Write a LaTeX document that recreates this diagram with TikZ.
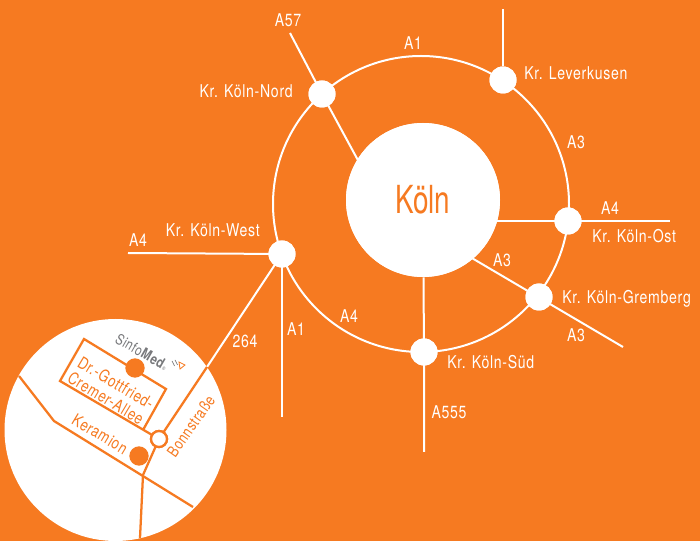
\documentclass[tikz,border=0pt]{standalone}
\usepackage{fontspec}
\setmainfont[FakeStretch=0.8,LetterSpace=4]{TeX Gyre Heros}
\newfontfamily\bigfont[FakeStretch=0.72]{TeX Gyre Heros}
\definecolor{bgor}{HTML}{F67A21}
\definecolor{logogray}{HTML}{77787B}
\tikzset{
  junction/.style={circle,fill=white,inner sep=0pt,minimum size=20.25pt},
  road/.style={draw=white,line width=1.5pt},
  lab/.style={text=white,font=\fontsize{13.2}{15}\selectfont,inner sep=0pt},
  street/.style={draw=bgor,line width=1.7pt,line join=miter},
  slab/.style={text=bgor,font=\fontsize{12.5}{15}\selectfont,inner sep=0pt},
  dotor/.style={circle,fill=bgor,inner sep=0pt,minimum size=14.5pt},
  hub/.style={circle,fill=white,inner sep=0pt,minimum size=115.5pt}
}
\begin{document}
\begin{tikzpicture}[x=0.75pt,y=-0.75pt]
\useasboundingbox (0,0) rectangle (700,541);
\fill[bgor] (0,0) rectangle (700,541);
% ring
\coordinate (ringc) at (421,204);
\draw[road] (ringc) circle[radius=148];
% free ends
\coordinate (endA57) at (290,33);
\coordinate (endLev) at (503,9);
\coordinate (endA4o) at (670,221);
\coordinate (endA3) at (623,347);
\coordinate (endA555) at (424,452);
\coordinate (endA1) at (282,417);
\coordinate (endA4w) at (128,253);
\coordinate (insetroad) at (207,367);
\coordinate (hubN) at (360,164);
\coordinate (hubO) at (480,221);
\coordinate (hubG) at (465,254);
\node[hub] (koeln) at (423,200) {};
\node[junction] (nord) at (322,94) {};
\node[junction] (lev) at (503,80) {};
\node[junction] (ost) at (568,221) {};
\node[junction] (grem) at (539,297) {};
\node[junction] (sued) at (424,352) {};
\node[junction] (west) at (282,254) {};
\draw[road] (endA57) -- (nord.center) -- (hubN);
\draw[road] (endLev) -- (lev);
\draw[road] (hubO) -- (endA4o);
\draw[road] (hubG) -- (endA3);
\draw[road] (koeln) -- (sued.center) -- (endA555);
\draw[road] (west.center) -- (endA1);
\draw[road] (west.center) -- (endA4w);
\draw[road] (west.center) -- (insetroad);
\node[hub] at (koeln) {};
\node[text=bgor,font=\bigfont\fontsize{29}{31}\selectfont,inner sep=0pt] (koelnlabel) at (423,200) {Köln};
\foreach \n in {nord,lev,ost,grem,sued,west} \node[junction] at (\n) {};
% labels
\node[lab] at (288,20) {A57};
\node[lab] at (413,43) {A1};
\node[lab,anchor=west] at (524,73) {Kr. Leverkusen};
\node[lab,anchor=east] at (293,91) {Kr. Köln-Nord};
\node[lab] at (576,142) {A3};
\node[lab] at (610,208) {A4};
\node[lab,anchor=west] at (592,236) {Kr. Köln-Ost};
\node[lab] at (502,260) {A3};
\node[lab,anchor=west] at (562,299) {Kr. Köln-Gremberg};
\node[lab] at (576,335) {A3};
\node[lab,anchor=west] at (447,362) {Kr. Köln-Süd};
\node[lab] at (349,316) {A4};
\node[lab] at (449,412) {A555};
\node[lab] at (296,329) {A1};
\node[lab] at (245,341) {264};
\node[lab] at (138,240) {A4};
\node[lab,anchor=east] at (260,230) {Kr. Köln-West};
% inset
\node[circle,fill=white,inner sep=0pt,minimum size=166.5pt] (inset) at (115.5,430) {};
\coordinate (r1a) at (19,376);
\coordinate (r1b) at (54,421);
\coordinate (r1c) at (193,507);
\coordinate (cross) at (143,475);
\coordinate (r2end) at (140,538);
\coordinate (b1) at (84,339);
\coordinate (b2) at (166,389);
\coordinate (b3) at (143,430);
\coordinate (b4) at (60,381);
\node[circle,draw=bgor,fill=white,line width=1.7pt,inner sep=0pt,minimum size=12pt] (bonn) at (159,439) {};
\draw[street] (r1a) -- (r1b) -- (r1c);
\draw[street] (insetroad) -- (bonn.center) -- (cross) -- (r2end);
\draw[street] (b3) -- (b2) -- (b1) -- (b4) -- (bonn.center);
\node[circle,draw=bgor,fill=white,line width=1.7pt,inner sep=0pt,minimum size=12pt] at (bonn) {};
\node[dotor] (dot1) at (135,368) {};
\node[dotor] (dot2) at (139,456) {};
\node[slab,rotate=-31] at (116,383) {Dr.-Gottfried-};
\node[slab,rotate=-31] at (106,398) {Cremer-Allee};
\node[slab,rotate=-31] at (100,434) {Keramion};
\node[slab,rotate=55,font=\fontsize{11.8}{14}\selectfont] at (191,426) {Bonnstraße};
\node[rotate=-30,text=logogray,inner sep=0pt,font=\fontsize{11}{12}\selectfont] (logo) at (142,352) {Sinfo\textbf{Med}{\fontsize{4}{4}\selectfont ®}};
\draw[logogray,line width=0.5pt] (172,361) -- (174.5,366) (175,360) -- (177.5,365);
\draw[bgor,line width=0.6pt] (179,362) -- (185,365) -- (180,369) -- cycle;
\end{tikzpicture}
\end{document}
